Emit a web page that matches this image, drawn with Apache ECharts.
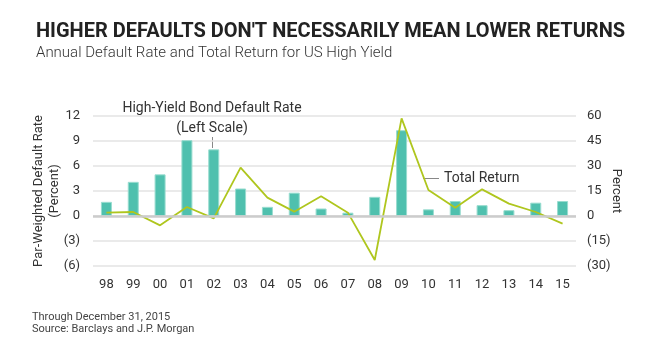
<!DOCTYPE html>
<html><head><meta charset="utf-8">
<script src="https://cdn.jsdelivr.net/npm/echarts@6/dist/echarts.min.js"></script>
<style>html,body{margin:0;padding:0;background:#fff}#c{width:651px;height:356px}</style>
</head><body><div id="c"></div>
<script>
var years = ['98','99','00','01','02','03','04','05','06','07','08','09','10','11','12','13','14','15'];
var defaultRate = [1.7,4.1,5.0,9.1,8.0,3.3,1.1,2.8,0.9,0.4,2.3,10.3,0.8,1.8,1.3,0.7,1.6,1.8];
var totalReturn = [2.0,2.4,-5.6,5.4,-1.4,29.0,11.0,2.6,11.8,2.0,-26.4,58.6,15.6,5.0,16.0,7.4,2.4,-4.6];
var leftTicks = {min:-6, max:12, interval:3};
var rightTicks = {min:-30, max:60, interval:15};

function paren(v){ return v < 0 ? '(' + Math.abs(v) + ')' : String(v); }
var F = 'Roboto, "Noto Sans", sans-serif';
var chart = echarts.init(document.getElementById('c'));
chart.setOption({
  animation:false,
  backgroundColor:'#fff',
  title:{
    left:31, top:17,
    text:"HIGHER DEFAULTS DON'T NECESSARILY MEAN LOWER RETURNS",
    subtext:'Annual Default Rate and Total Return for US High Yield',
    itemGap:4,
    textStyle:{fontFamily:F, fontWeight:'bold', fontSize:20, color:'#222'},
    subtextStyle:{fontFamily:F, fontWeight:300, fontSize:15, color:'#333'}
  },
  grid:{left:93, right:75, top:116, bottom:90},
  xAxis:{
    type:'category', data:years,
    axisLine:{show:false}, axisTick:{show:false},
    axisLabel:{fontFamily:F, fontSize:13, color:'#333', margin:12}
  },
  yAxis:[{
    type:'value', min:leftTicks.min, max:leftTicks.max, interval:leftTicks.interval,
    axisLine:{show:false}, axisTick:{show:false},
    axisLabel:{fontFamily:F, fontSize:13, color:'#333', margin:13, formatter:paren},
    splitLine:{lineStyle:{color:'#e3e3e3', width:1.5}},
    name:'Par-Weighted Default Rate\n(Percent)', nameLocation:'middle', nameRotate:90, nameGap:30,
    nameMoveOverlap:false,
    nameTextStyle:{fontFamily:F, fontSize:13, color:'#333', lineHeight:16}
  },{
    type:'value', min:rightTicks.min, max:rightTicks.max, interval:rightTicks.interval,
    axisLine:{show:false}, axisTick:{show:false},
    axisLabel:{fontFamily:F, fontSize:13, color:'#333', margin:11, formatter:paren},
    splitLine:{show:false},
    name:'Percent', nameLocation:'middle', nameRotate:-90, nameGap:34,
    nameMoveOverlap:false,
    nameTextStyle:{fontFamily:F, fontSize:13, color:'#333'}
  }],
  series:[{
    type:'bar', yAxisIndex:0, data:defaultRate, barWidth:11,
    itemStyle:{color:'#4fc0ae', borderColor:'#98dccf', borderWidth:1},
    markLine:{silent:true, symbol:'none', label:{show:false},
      lineStyle:{color:'#cccccc', width:2.5, type:'solid'}, data:[{yAxis:0}]},
    z:2
  },{
    type:'line', yAxisIndex:1, data:totalReturn, symbol:'none',
    lineStyle:{color:'#afc61e', width:1.8}, z:3
  }],
  graphic:[
    {type:'text', x:212, y:108, style:{text:'High-Yield Bond Default Rate', fontFamily:F, fontSize:14, fill:'#333', textAlign:'center', textVerticalAlign:'middle'}},
    {type:'text', x:212, y:128, style:{text:'(Left Scale)', fontFamily:F, fontSize:14, fill:'#333', textAlign:'center', textVerticalAlign:'middle'}},
    {type:'line', shape:{x1:212.5, y1:137, x2:212.5, y2:148}, style:{stroke:'#888', lineWidth:1}},
    {type:'line', shape:{x1:423, y1:178.5, x2:439, y2:178.5}, style:{stroke:'#888', lineWidth:1}},
    {type:'text', x:444, y:178, style:{text:'Total Return', fontFamily:F, fontSize:14, fill:'#333', textAlign:'left', textVerticalAlign:'middle'}},
    {type:'text', x:32, y:317, style:{text:'Through December 31, 2015', fontFamily:F, fontSize:11, fill:'#444', textVerticalAlign:'middle'}},
    {type:'text', x:32, y:329, style:{text:'Source: Barclays and J.P. Morgan', fontFamily:F, fontSize:11, fill:'#444', textVerticalAlign:'middle'}}
  ]
});
</script></body></html>
